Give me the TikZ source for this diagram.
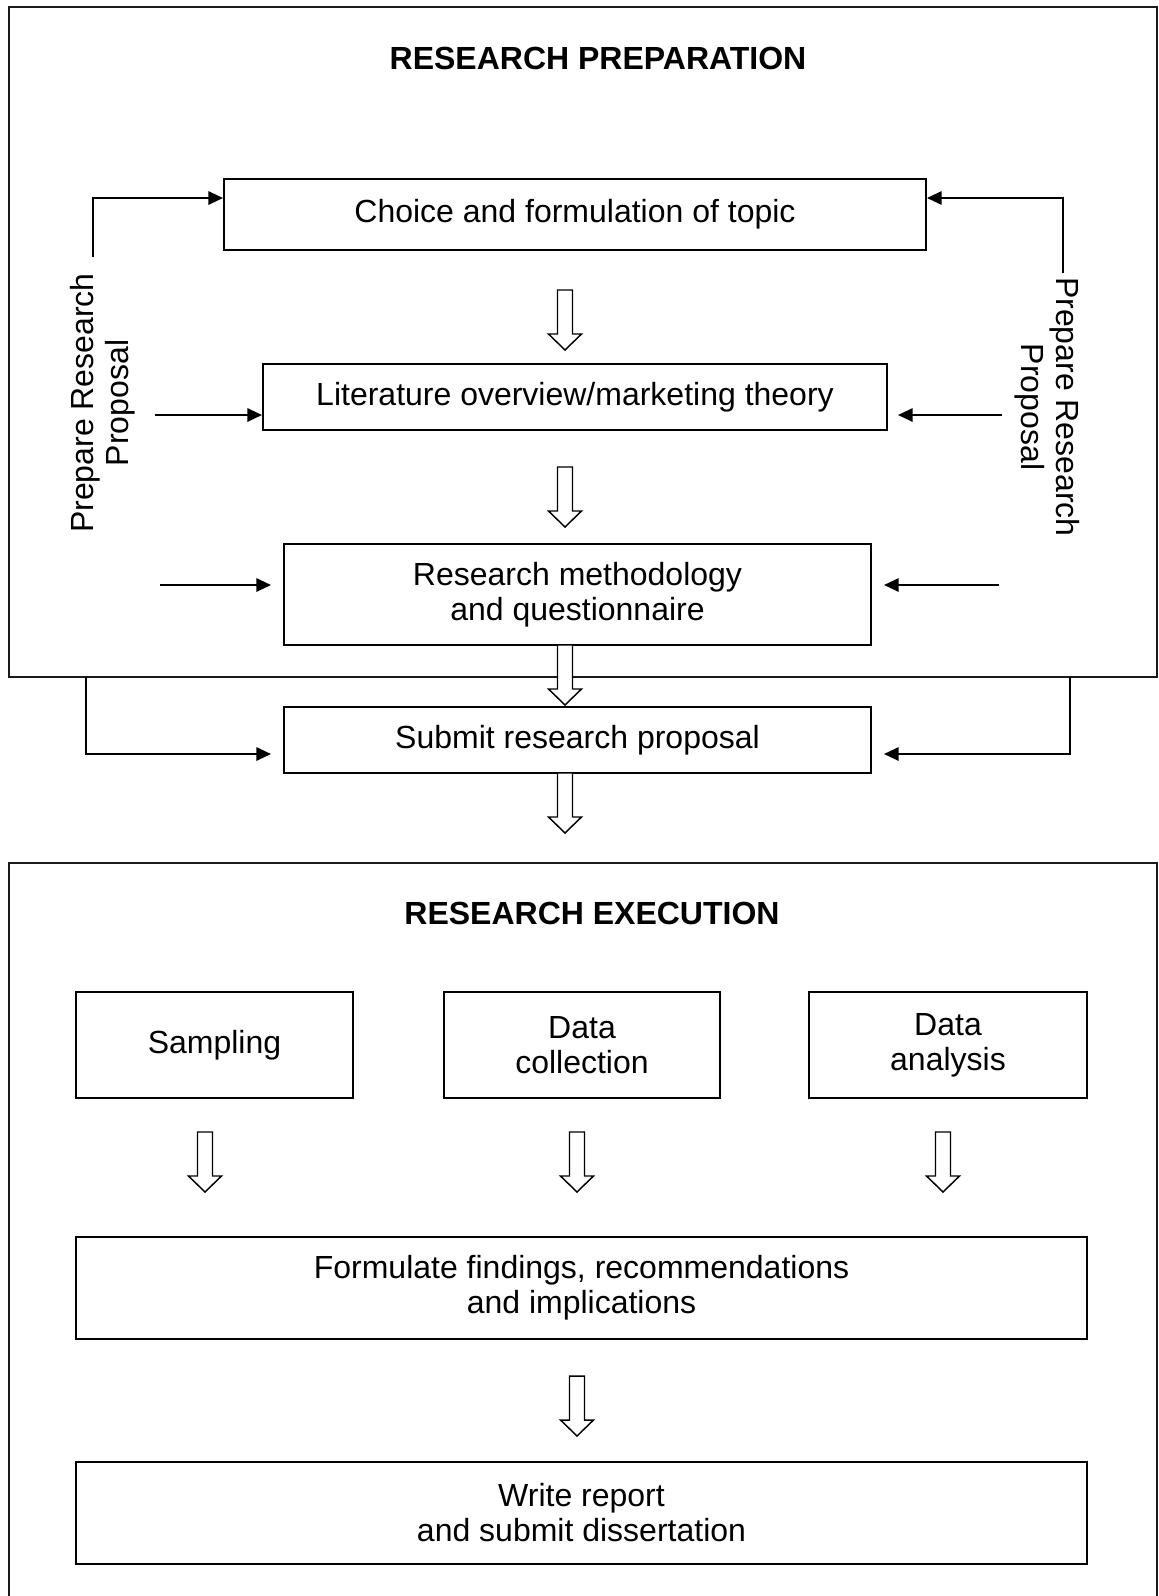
\documentclass[tikz,border=0pt]{standalone}
\usepackage{fontspec}
\setmainfont{Liberation Sans}
\usetikzlibrary{arrows.meta,calc}
\definecolor{bg}{HTML}{FFFFFF}
\definecolor{ink}{HTML}{000000}
\definecolor{frame}{HTML}{1A1A1A}

\begin{document}
\begin{tikzpicture}[x=0.75pt,y=-0.75pt,line cap=butt,line join=miter,
  box/.style={draw=ink,line width=1.5pt,align=center,inner sep=0pt,
    font=\fontsize{24}{26.25}\selectfont},
  title/.style={font=\fontsize{24}{26.25}\selectfont\bfseries,text=ink},
  sidetext/.style={font=\fontsize{24}{26.25}\selectfont,align=center,text=ink},
  conn/.style={-{Triangle[length=11pt,width=10pt]},line width=1.5pt,ink},
  hollowdown/.pic={
    \draw[line width=1.1pt,ink,fill=bg] (-7.5,0) -- (7.5,0) -- (7.5,44) -- (16.5,44)
      -- (0,60) -- (-16.5,44) -- (-7.5,44) -- cycle;}]
  \useasboundingbox (0,0) rectangle (1158,1596);
  \fill[bg] (0,0) rectangle (1158,1596);

  % ---- research preparation ----
  \draw[frame,line width=1.5pt] (9,7) rectangle (1157,677);
  \node[title] (prepTitle) at (598,58) {RESEARCH PREPARATION};

  \node[box,minimum width=526.5pt,minimum height=53.25pt] (choice) at (575,214.5)
    {Choice and formulation of topic};
  \node[box,minimum width=468pt,minimum height=49.5pt] (litreview) at (575,397)
    {Literature overview/marketing theory};
  \node[box,minimum width=440.25pt,minimum height=75.75pt] (method) at (577.5,594.5)
    {Research methodology\\and questionnaire};
  \node[box,minimum width=440.25pt,minimum height=49.5pt] (submit) at (577.5,740)
    {Submit research proposal};

  % side labels
  \node[sidetext,rotate=90] (leftLabel) at (103,403) {Prepare Research\\Proposal};
  \node[sidetext,rotate=-90] (rightLabel) at (1047,407) {Prepare Research\\Proposal};

  % side connectors (left)
  \coordinate (lTop) at (93,257);
  \coordinate (lLit) at (155,415);
  \coordinate (lMeth) at (160,585);
  \coordinate (lSub) at (86,677);
  \draw[conn] (lTop) |- ($(choice.north west)+(0,20)$);
  \draw[conn] (lLit) -- (lLit -| litreview.west);
  \draw[conn] (lMeth) -- ($(lMeth -| method.west)+(-12,0)$);
  \draw[conn] (lSub) |- ($(submit.west)+(-12,14)$);
  % side connectors (right)
  \coordinate (rTop) at (1063,273);
  \coordinate (rLit) at (1002,415);
  \coordinate (rMeth) at (999,585);
  \coordinate (rSub) at (1070,677);
  \draw[conn] (rTop) |- ($(choice.north east)+(0,20)$);
  \draw[conn] (rLit) -- ($(rLit -| litreview.east)+(10,0)$);
  \draw[conn] (rMeth) -- ($(rMeth -| method.east)+(12,0)$);
  \draw[conn] (rSub) |- ($(submit.east)+(12,14)$);

  % hollow arrows between steps
  \pic at (565,290) {hollowdown};
  \pic at (565,467) {hollowdown};
  \pic at (565,645) {hollowdown};
  \pic at (565,773) {hollowdown};

  % ---- research execution ----
  \draw[frame,line width=1.5pt] (9,863) rectangle (1157,1610);
  \node[title] (execTitle) at (592,913) {RESEARCH EXECUTION};

  \node[box,minimum width=207.75pt,minimum height=79.5pt] (sampling) at (214.5,1045) {Sampling};
  \node[box,minimum width=207pt,minimum height=79.5pt] (collect) at (582,1045) {Data\\collection};
  \node[box,minimum width=208.5pt,minimum height=79.5pt] (analyse) at (948,1045) {Data\\analysis};

  \pic at (205,1132) {hollowdown};
  \pic at (577,1132) {hollowdown};
  \pic at (943,1132) {hollowdown};

  \node[box,minimum width=758.25pt,minimum height=76.5pt] (findings) at (581.5,1288)
    {Formulate findings, recommendations\\and implications};
  \pic at (577,1376) {hollowdown};
  \node[box,minimum width=758.25pt,minimum height=76.5pt] (report) at (581.5,1513)
    {Write report\\and submit dissertation};
\end{tikzpicture}
\end{document}
